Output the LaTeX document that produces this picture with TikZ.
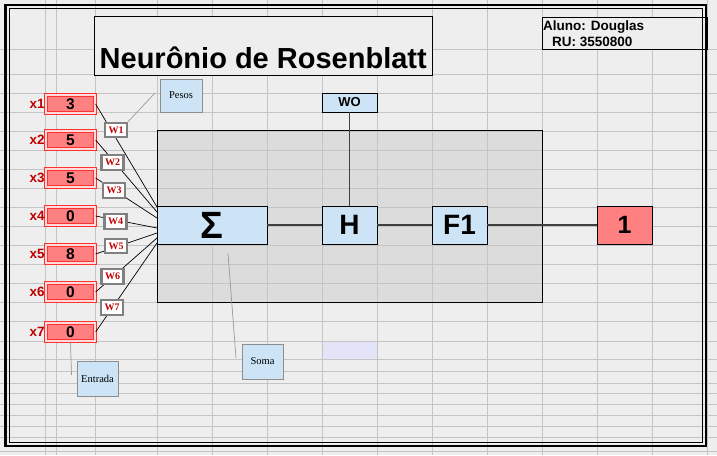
\documentclass[tikz,border=0pt]{standalone}
\usepackage{fontspec}
\setmainfont{Liberation Sans}
\newfontfamily\seriffont{Liberation Serif}
\definecolor{bg}{HTML}{EEEEEE}
\definecolor{gridc}{HTML}{C4C4C4}
\definecolor{boxgray}{HTML}{DCDCDC}
\definecolor{lblue}{HTML}{CCE4F5}
\definecolor{salmon}{HTML}{FF8080}
\definecolor{xred}{HTML}{C00000}
\definecolor{brightred}{HTML}{FF3030}
\definecolor{paleRed}{HTML}{FFDCDC}
\definecolor{lav}{HTML}{E4E4F8}
\definecolor{wgray}{HTML}{808080}
\definecolor{connc}{HTML}{404040}
\tikzset{
  xbox/.style={draw=brightred, line width=0.8pt, double=paleRed, double distance=2pt,
    fill=salmon, minimum width=49.4pt, minimum height=18.4pt, inner sep=0pt,
    font=\bfseries\fontsize{15.5}{15.5}\selectfont},
  xlab/.style={inner sep=0pt, text=xred, font=\bfseries\fontsize{13.5}{13.5}\selectfont},
  wbox/.style={draw=wgray, line width=2.2pt, fill=white, minimum width=22pt, minimum height=14.5pt,
    inner sep=0pt, text=xred, font=\seriffont\bfseries\fontsize{10}{10}\selectfont},
  wline/.style={black, line width=0.7pt},
  blbox/.style={draw=black, line width=0.8pt, fill=lblue, inner sep=0pt,
    minimum width=55pt, minimum height=38pt, font=\bfseries\fontsize{28}{28}\selectfont},
  callout/.style={draw=wgray!90, line width=1pt, fill=lblue, inner sep=0pt,
    minimum width=41pt, minimum height=35pt, font=\seriffont\fontsize{10.5}{10.5}\selectfont},
  callline/.style={draw=wgray!80, line width=0.7pt},
  conn/.style={connc, line width=1.2pt}
}
\begin{document}
\begin{tikzpicture}[x=1pt,y=-1pt]
\useasboundingbox (0,0) rectangle (717,455);
\fill[bg] (0,0) rectangle (717,455);
\fill[boxgray] (157,130) rectangle (542,302);
\fill[lav] (323,341) rectangle (377,359);
% grid
\foreach \x in {45,56,95,157,212,267,322,377,432,487,542,597,652,707}
  \draw[gridc, line width=0.8pt] (\x,0) -- (\x,455);
\foreach \y in {49,74,93,112,131,150,169,188,207,226,245,264,283,302,321,341,359,371,383,393,404,415,426,437,451}
  \draw[gridc, line width=0.8pt] (0,\y) -- (717,\y);

% neuron body box
\node[draw=black, line width=0.8pt, minimum width=385pt, minimum height=172pt, inner sep=0pt, anchor=north west] (neuron) at (157,130) {};

% title
\node[draw=black, line width=0.8pt, fill=bg, minimum width=338pt, minimum height=59pt, inner sep=0pt, anchor=north west] (title) at (94,16) {};
\node[anchor=base west, inner sep=0pt, font=\bfseries\fontsize{29}{29}\selectfont] (titletext) at (99.5,68) {Neurônio de Rosenblatt};

% student box
\node[draw=black, line width=0.8pt, fill=bg, minimum width=165pt, minimum height=32pt, inner sep=0pt, anchor=north west] (alunobox) at (542,17) {};
\node[anchor=north west, align=left, inner sep=0pt, font=\bfseries\fontsize{13.5}{16}\selectfont] (aluno) at (543,20.5) {Aluno: Douglas\\\hspace{9pt}RU: 3550800};

% inputs
\node[xbox] (x1) at (70.5,104) {3};
\node[xbox] (x2) at (70.5,140) {5};
\node[xbox] (x3) at (70.5,178) {5};
\node[xbox] (x4) at (70.5,216) {0};
\node[xbox] (x5) at (70.5,254) {8};
\node[xbox] (x6) at (70.5,292) {0};
\node[xbox] (x7) at (70.5,332) {0};
\foreach \i in {1,...,7}
  \node[xlab, anchor=east] (lx\i) at ([xshift=-0.5pt]x\i.west) {x\i};

% summation etc.
\node[blbox, minimum width=110pt, font=\bfseries\fontsize{38}{38}\selectfont] (sum) at (212,225) {Σ};
\node[blbox] (H) at (349.5,225) {H};
\node[blbox] (F1) at (459.5,225) {F1};
\node[blbox, fill=salmon, font=\bfseries\fontsize{25}{25}\selectfont] (out) at (624.5,225) {1};
\node[blbox, minimum height=19pt, font=\bfseries\fontsize{13}{13}\selectfont] (wo) at (349.5,102.5) {WO};

% input connectors
\coordinate (s1) at (157,207);
\coordinate (s2) at (157,212);
\coordinate (s3) at (157,218);
\coordinate (s4) at (157,228);
\coordinate (s5) at (157,233);
\coordinate (s6) at (157,238);
\coordinate (s7) at (157,243);
\foreach \i in {1,...,7}
  \draw[wline] (x\i.east) -- (s\i);

\node[wbox] (w1) at (116,130) {W1};
\node[wbox] (w2) at (112.5,162.5) {W2};
\node[wbox] (w3) at (114,190.5) {W3};
\node[wbox] (w4) at (115.5,221.5) {W4};
\node[wbox] (w5) at (116,246) {W5};
\node[wbox] (w6) at (112.5,276.5) {W6};
\node[wbox] (w7) at (112,307.5) {W7};

% chain connectors
\draw[conn] (sum.east) -- (H.west);
\draw[conn] (H.east) -- (F1.west);
\draw[conn] (F1.east) -- (out.west);
\draw[conn] (wo.south) -- (H.north);

% callouts
\node[callout, minimum width=42pt, minimum height=33pt] (pesos) at (181,95.5) {Pesos};
\node[callout] (entrada) at (97.5,378.5) {Entrada};
\node[callout] (soma) at (262.5,361.5) {Soma};
\coordinate (pesosEnd) at (155,93);
\coordinate (entEnd) at (71.5,375);
\coordinate (somaA) at (228,253);
\coordinate (somaB) at (236,358);
\draw[callline] (pesosEnd) -- (w1.north east);
\draw[callline] (x7.south) -- (entEnd);
\draw[callline] (somaA) -- (somaB);

% outer double border
\draw[black, line width=2.4pt] (5.5,5) rectangle (706,446);
\draw[black, line width=0.8pt] (9,8.5) rectangle (702.5,442.5);
\end{tikzpicture}
\end{document}
